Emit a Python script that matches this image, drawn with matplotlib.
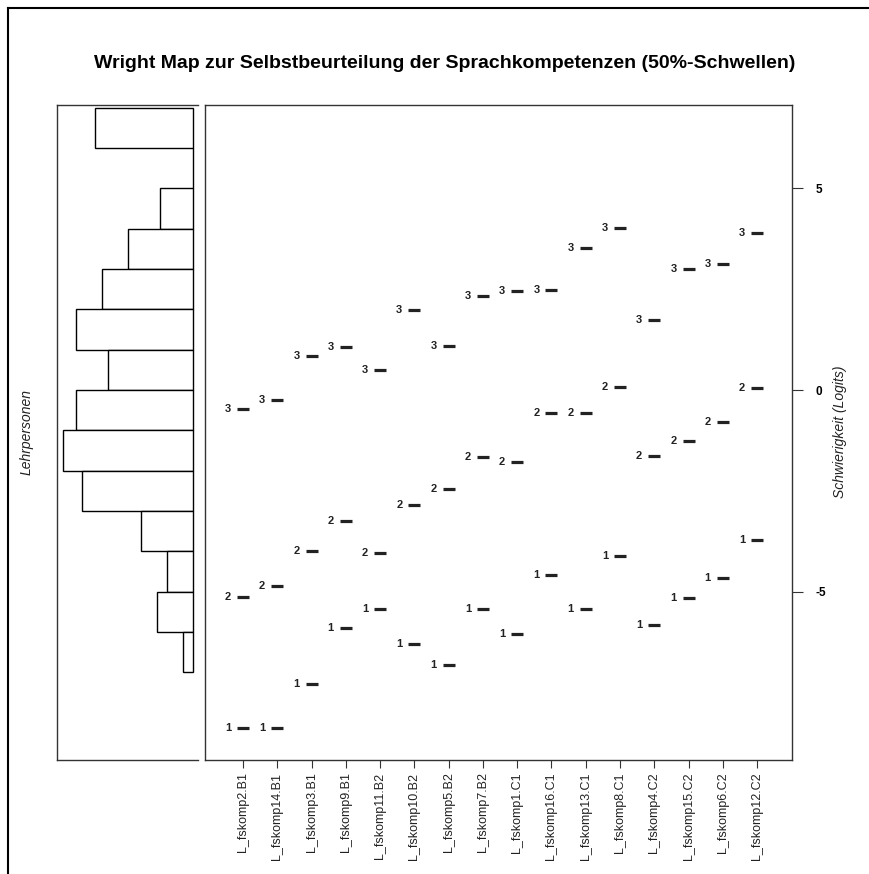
import matplotlib
matplotlib.use("Agg")
import matplotlib.pyplot as plt
from matplotlib.lines import Line2D
import numpy as np

plt.rcParams['font.family'] = ['Liberation Sans', 'DejaVu Sans']

items = ["L_fskomp2.B1", "L_fskomp14.B1", "L_fskomp3.B1", "L_fskomp9.B1",
         "L_fskomp11.B2", "L_fskomp10.B2", "L_fskomp5.B2", "L_fskomp7.B2",
         "L_fskomp1.C1", "L_fskomp16.C1", "L_fskomp13.C1", "L_fskomp8.C1",
         "L_fskomp4.C2", "L_fskomp15.C2", "L_fskomp6.C2", "L_fskomp12.C2"]

thr1 = [-8.37, -8.37, -7.30, -5.90, -5.42, -6.29, -6.82, -5.44,
        -6.06, -4.59, -5.42, -4.12, -5.83, -5.16, -4.66, -3.72]
thr2 = [-5.14, -4.87, -4.00, -3.25, -4.03, -2.86, -2.46, -1.65,
        -1.78, -0.56, -0.56, 0.08, -1.64, -1.27, -0.79, 0.06]
thr3 = [-0.48, -0.25, 0.84, 1.07, 0.50, 1.99, 1.10, 2.33,
        2.46, 2.48, 3.51, 4.02, 1.74, 2.99, 3.12, 3.90]

# person histogram (bins of 1 logit)
bin_lower = [6, 5, 4, 3, 2, 1, 0, -1, -2, -3, -4, -5, -6, -7]
bin_count = [30, 0, 10, 20, 28, 36, 26, 36, 40, 34, 16, 8, 11, 3]

title = "Wright Map zur Selbstbeurteilung der Sprachkompetenzen (50%-Schwellen)"
ylabel_right = "Schwierigkeit (Logits)"
ylabel_left = "Lehrpersonen"

W, H = 870, 874
fig = plt.figure(figsize=(W / 100, H / 100), dpi=100)

def fx(px):
    return px / W

def fy(py):
    return 1 - py / H

ylim = (-9.174, 7.067)

# main axes
ax = fig.add_axes([fx(205), fy(760), fx(792) - fx(205), fy(105) - fy(760)])
ax.set_xlim(-0.11, 17.02)
ax.set_ylim(*ylim)
xs = np.arange(1, len(items) + 1)
dark = "#222222"
for vals, lab in ((thr1, "1"), (thr2, "2"), (thr3, "3")):
    ax.plot(xs, vals, linestyle="none", marker="_", markersize=8,
            markeredgewidth=2.3, color=dark)
    for x, v in zip(xs, vals):
        ax.text(x - 0.44, v, lab, ha="center", va="center", fontsize=8,
                fontweight="bold", color=dark)

ax.set_xticks(xs)
ax.set_xticklabels(items, rotation=90, fontsize=9, color="#222222")
ax.tick_params(axis="x", length=6, width=0.8, pad=3, color="#333333")
ax.yaxis.tick_right()
ax.set_yticks([-5, 0, 5])
ax.set_yticklabels(["-5", "0", "5"], fontweight="bold", fontsize=8.5)
ax.tick_params(axis="y", length=8, width=0.8, pad=9, color="#333333")
for s in ax.spines.values():
    s.set_linewidth(1.0)
    s.set_color("#333333")

# histogram axes
hax = fig.add_axes([fx(57), fy(760), fx(198) - fx(57), fy(105) - fy(760)])
hax.barh(bin_lower, bin_count, height=1.0, align="edge", left=0,
         facecolor="white", edgecolor="black", linewidth=1.0)
hax.set_xlim(41.8, -1.53)
hax.set_ylim(*ylim)
hax.set_xticks([])
hax.set_yticks([])
hax.spines["right"].set_visible(False)
for k in ("left", "top", "bottom"):
    hax.spines[k].set_linewidth(1.0)
    hax.spines[k].set_color("#333333")

fig.text(0.5 * (fx(95) + fx(795)), fy(63), title, ha="center", va="center",
         fontsize=14, fontweight="bold")
fig.text(fx(840), fy(432), ylabel_right, rotation=90, ha="center", va="center",
         fontsize=10, fontstyle="italic", color="#222222")
fig.text(fx(27), fy(432), ylabel_left, rotation=90, ha="center", va="center",
         fontsize=10, fontstyle="italic", color="#222222")

# outer frame (left and top edges)
fig.add_artist(Line2D([fx(8), fx(8)], [0, fy(8)], color="black", linewidth=1.5,
                      transform=fig.transFigure))
fig.add_artist(Line2D([fx(8), 1], [fy(8), fy(8)], color="black", linewidth=1.5,
                      transform=fig.transFigure))

fig.savefig("out.png", dpi=100)
